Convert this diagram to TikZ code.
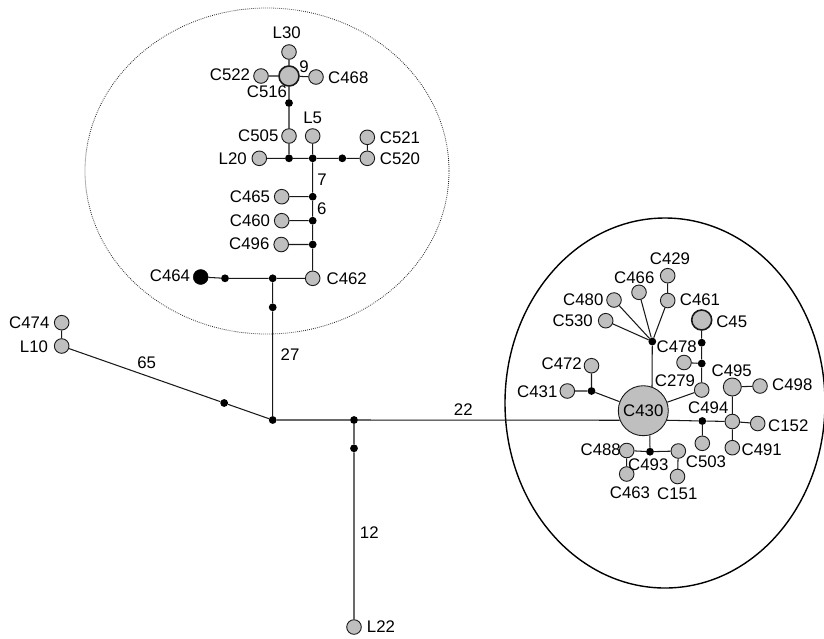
\documentclass[tikz,border=0pt]{standalone}
\usepackage{fontspec}
\setmainfont{Liberation Sans}
\usetikzlibrary{calc}
\begin{document}
\begin{tikzpicture}[x=1pt,y=-1pt,
  hap/.style={circle,draw=black!90,fill=black!25,line width=0.9pt,inner sep=0pt,minimum size=14.6pt},
  bighap/.style={hap,line width=1.6pt,minimum size=20pt},
  midhap/.style={hap,minimum size=18pt},
  blackhap/.style={circle,fill=black,draw=black,inner sep=0pt,minimum size=15pt},
  mv/.style={circle,fill=black,inner sep=0pt,minimum size=7.8pt},
  lbl/.style={inner sep=0pt,font=\fontsize{16.8}{17}\selectfont},
  edge/.style={draw=black!90,line width=1.05pt},
  groupdot/.style={draw=black!85,line width=0.8pt,dash pattern=on 0.8pt off 1.2pt},
  groupline/.style={draw=black,line width=1.4pt}]
\useasboundingbox (0,0) rectangle (824,638);
\fill[white] (0,0) rectangle (824,638);

% group outlines
\draw[groupdot] (267,171) ellipse [x radius=182pt, y radius=163pt];
\draw[groupline] (665,403) ellipse [x radius=160pt, y radius=185pt];

% ---------- upper cluster ----------
\node[bighap] (c516) at (289,76) {};
\node[hap] (l30) at (289,52) {};
\node[hap] (c522) at (261,76) {};
\node[hap] (c468) at (316,77) {};
\node[mv] (m1) at (289,103) {};
\node[hap] (c505) at (289,136) {};
\node[mv] (m2) at (289,158.3) {};
\node[hap] (l20) at (259.3,158.3) {};
\node[mv] (m3) at (312.7,158.3) {};
\node[hap] (l5) at (312.7,136) {};
\node[mv] (m4) at (342.3,158.3) {};
\node[hap] (c520) at (367.3,158.3) {};
\node[hap] (c521) at (367.3,137.3) {};
\node[mv] (m5) at (312.7,196.7) {};
\node[hap] (c465) at (281.7,196.7) {};
\node[mv] (m6) at (312.7,220.7) {};
\node[hap] (c460) at (281.7,220.7) {};
\node[mv] (m7) at (312.7,244.5) {};
\node[hap] (c496) at (281.2,244.5) {};
\node[hap] (c462) at (312.7,278.3) {};
\node[mv] (m8) at (272.7,278.3) {};
\node[mv] (m9) at (225,278.3) {};
\node[blackhap] (c464) at (200.7,277) {};
\node[mv] (m10) at (272.7,307.3) {};

% ---------- central junctions ----------
\node[mv] (j) at (272.7,420) {};
\node[hap] (c474) at (61.7,322.7) {};
\node[hap] (l10) at (61.7,346) {};
\node[mv] (m11) at ($(l10)!0.77!(j)$) {};
\node[mv] (m13) at (354,420) {};
\node[mv] (m12) at (354,448.3) {};
\node[hap] (l22) at (354,627) {};

% ---------- right cluster ----------
\node[hap,minimum size=50pt] (c430) at (643.3,410.7) {};
\node[mv] (m15) at (652.3,341.5) {};
\node[hap] (c530) at (605.7,320.7) {};
\node[hap] (c480) at (614,300) {};
\node[hap] (c466) at (639,292.3) {};
\node[hap] (c461) at (667.7,300.5) {};
\node[hap] (c429) at (667.7,275.7) {};
\node[bighap] (c45) at (701.7,320) {};
\node[mv] (m16) at (701.7,342.7) {};
\node[mv] (m17) at (701.7,363.5) {};
\node[hap] (h1) at (684,362.5) {};
\node[hap] (c279) at (701.7,390) {};
\node[mv] (m14) at (702.3,421) {};
\node[hap] (c503) at (702.3,443.3) {};
\node[hap] (c494) at (732.3,421.5) {};
\node[midhap] (c495) at (732.3,387) {};
\node[hap] (c498) at (760,386) {};
\node[hap] (c152) at (757.7,423.5) {};
\node[hap] (c491) at (732.3,447.7) {};
\node[mv] (m18) at (650,451.7) {};
\node[hap] (c488) at (626.7,450.5) {};
\node[hap] (c463) at (626.7,474) {};
\node[hap] (c493) at (678.3,451) {};
\node[hap] (c151) at (677.5,476.5) {};
\node[mv] (m19) at (591.5,391) {};
\node[hap] (c472) at (591.5,365.7) {};
\node[hap] (c431) at (567.3,391) {};

% ---------- connectors ----------
\path[edge]
  (l30) -- (c516) (c522) -- (c516) (c516) -- (c468)
  (c516) -- (m1) -- (c505) (c505) -- (m2)
  (l20) -- (m2) -- (m3) -- (m4) -- (c520) (c520) -- (c521)
  (m3) -- (l5)
  (m3) -- (m5) -- (m6) -- (m7) -- (c462)
  (m5) -- (c465) (m6) -- (c460) (m7) -- (c496)
  (c462) -- (m8) -- (m9) -- (c464)
  (m8) -- (m10) -- (j)
  (c474) -- (l10) (l10) -- (m11) -- (j)
  (j) -- (m13) -- (c430.202)
  (m13) -- (m12) -- (l22)
  (c430.70) -- (m15)
  (m15) -- (c530) (m15) -- (c480) (m15) -- (c466) (m15) -- (c461)
  (c461) -- (c429)
  (c45) -- (m16) -- (m17) -- (c279) (m17) -- (h1)
  (c430) -- (c279)
  (c430.338) -- (m14) -- (c494) (m14) -- (c503)
  (c494) -- (c495) (c494) -- (c491) (c494) -- (c152) (c495) -- (c498)
  (c430.285) -- (m18) (m18) -- (c488) (m18) -- (c493)
  (c488) -- (c463) (c493) -- (c151)
  (c430) -- (m19) (m19) -- (c472) (m19) -- (c431);

% ---------- labels ----------
\node[lbl] (t-l30) at (286.7,32.3) {L30};
\node[lbl] (t-c522) at (230,75) {C522};
\node[lbl] (t-c468) at (348.3,77.3) {C468};
\node[lbl] (t-9) at (304,67) {9};
\node[lbl] (t-c516) at (267,92) {C516};
\node[lbl] (t-c505) at (258.3,136) {C505};
\node[lbl] (t-l5) at (312.7,118) {L5};
\node[lbl] (t-c521) at (400,137.3) {C521};
\node[lbl] (t-c520) at (400,159) {C520};
\node[lbl] (t-l20) at (232.7,158.3) {L20};
\node[lbl] (t-7) at (322,180) {7};
\node[lbl] (t-6) at (321.7,209) {6};
\node[lbl] (t-c465) at (250,196.5) {C465};
\node[lbl] (t-c460) at (250,220.7) {C460};
\node[lbl] (t-c496) at (249.3,244) {C496};
\node[lbl] (t-c462) at (346.7,278.3) {C462};
\node[lbl] (t-c464) at (170,276) {C464};
\node[lbl] (t-c474) at (29.3,322.7) {C474};
\node[lbl] (t-l10) at (34,346.7) {L10};
\node[lbl] (t-65) at (146.7,362.7) {65};
\node[lbl] (t-27) at (290,355) {27};
\node[lbl] (t-22) at (463.3,409.3) {22};
\node[lbl] (t-12) at (369.3,532.7) {12};
\node[lbl] (t-l22) at (381,627) {L22};
\node[lbl] (t-c429) at (670,259) {C429};
\node[lbl] (t-c466) at (634.3,277.3) {C466};
\node[lbl] (t-c461) at (700,300) {C461};
\node[lbl] (t-c480) at (583.3,300) {C480};
\node[lbl] (t-c530) at (572.7,320.7) {C530};
\node[lbl] (t-c45) at (731.7,321.7) {C45};
\node[lbl] (t-c478) at (676.7,346.7) {C478};
\node[lbl] (t-c472) at (561.7,363.3) {C472};
\node[lbl] (t-c431) at (537.3,391.7) {C431};
\node[lbl] (t-c279) at (675,380.7) {C279};
\node[lbl] (t-c495) at (731.7,370.7) {C495};
\node[lbl] (t-c498) at (792.3,385) {C498};
\node[lbl] (t-c494) at (708.3,407.3) {C494};
\node[lbl] (t-c430) at (643.3,410.7) {C430};
\node[lbl] (t-c152) at (788.3,426) {C152};
\node[lbl] (t-c491) at (761.7,449.3) {C491};
\node[lbl] (t-c503) at (706,461.7) {C503};
\node[lbl] (t-c488) at (600.7,450) {C488};
\node[lbl] (t-c493) at (648.3,464.3) {C493};
\node[lbl] (t-c463) at (630,492.7) {C463};
\node[lbl] (t-c151) at (677.3,493.3) {C151};
\end{tikzpicture}
\end{document}
